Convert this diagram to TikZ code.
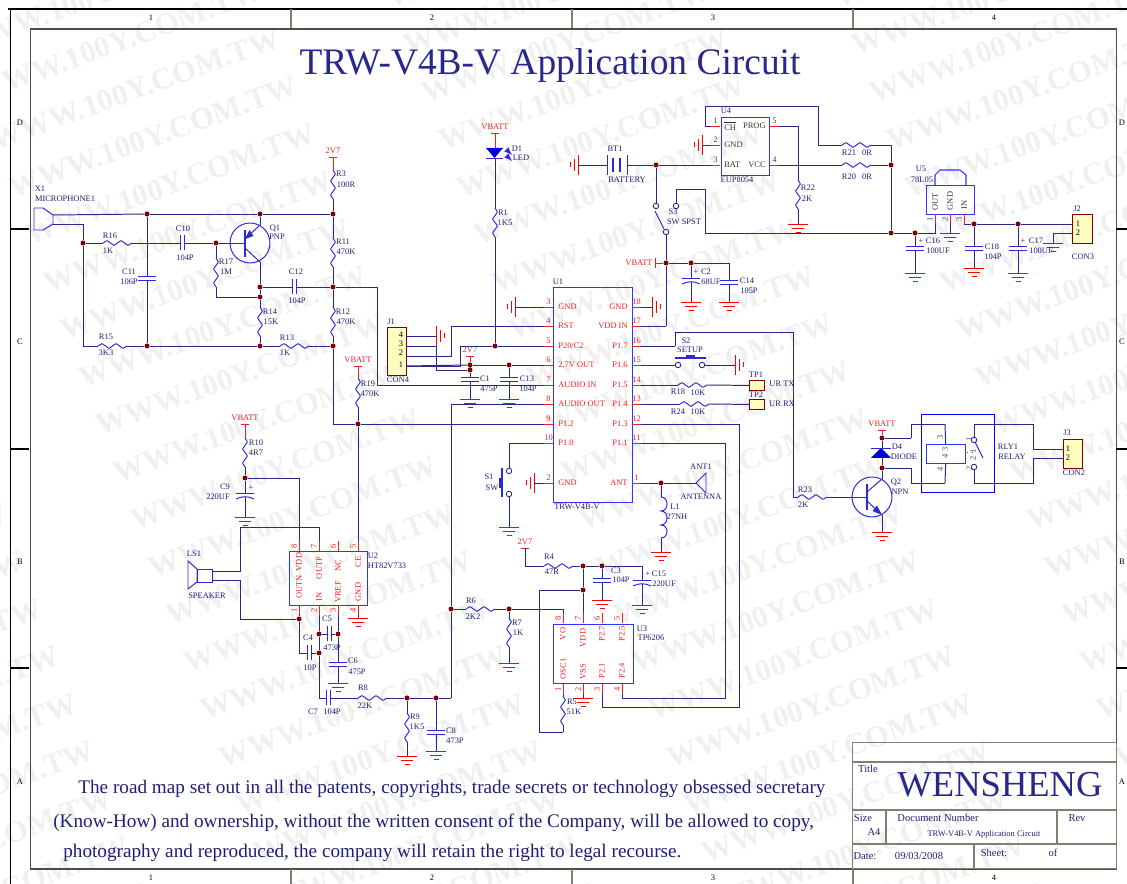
\documentclass[tikz,border=0pt]{standalone}
\usepackage{fontspec}
\setmainfont{Liberation Serif}
\definecolor{wirecol}{HTML}{28288C}
\definecolor{symcol}{HTML}{2A2AD8}
\definecolor{redcol}{HTML}{F02020}
\definecolor{lblcol}{HTML}{1F1F78}
\definecolor{junccol}{HTML}{800000}
\definecolor{framecol}{HTML}{808070}
\tikzset{
  wire/.style={draw=wirecol,line width=0.56pt},
  hv/.style={to path={-| (\tikztotarget)}},
  vh/.style={to path={|- (\tikztotarget)}},
  pwr/.style={draw=redcol,line width=0.5pt},
  gndl/.style={draw=red,line width=0.55pt},
  sym/.style={draw=symcol,line width=0.56pt},
  lbl/.style={font=\fontsize{4.8}{5.5}\selectfont,text=lblcol,inner sep=0pt},
  pinlbl/.style={font=\fontsize{4.8}{5.5}\selectfont,text=redcol,inner sep=0pt},
  pinnum/.style={font=\fontsize{4.8}{5.5}\selectfont,text=redcol,inner sep=0pt},
  bignote/.style={font=\fontsize{10.93}{12}\selectfont,text=lblcol,inner sep=0pt,anchor=west},
  dot/.style={circle,fill=junccol,inner sep=0pt,minimum size=0.1cm},
  contact/.style={circle,draw=wirecol,fill=white,line width=0.5pt,inner sep=0pt,minimum size=0.11cm},
  ic/.style={draw=blue!80!white,line width=0.6pt,inner sep=0pt},
  conn/.style={draw=junccol,fill=yellow!25,line width=0.6pt,inner sep=0pt},
  wmark/.style={font=\bfseries\fontsize{17.5}{19}\selectfont,text=black!6,rotate=20,inner sep=0pt},
  framel/.style={draw=framecol,line width=0.6pt},
  pics/res/.style={code={
    \draw[sym,rounded corners=0.4pt] (0,0) -- (4,-2.5) -- (11,2.5) -- (18,-2.5) -- (25,2.5) -- (29,0);
    \coordinate (-a) at (0,0);
    \coordinate (-b) at (29,0);
  }},
  pics/cap/.style={code={
    \draw[sym] (0,-#1) -- (0,#1);
    \draw[sym] (4,-#1) -- (4,#1);
    \coordinate (-a) at (0,0);
    \coordinate (-b) at (4,0);
  }},
  pics/pcap/.style={code={
    \draw[sym] (0,-9) -- (0,9);
    \draw[sym] (6,-9) .. controls (3,-3) and (3,3) .. (6,9);
    \coordinate (-a) at (0,0);
    \coordinate (-b) at (4,0);
  }},
  pics/gnd/.style={code={
    \draw[gndl] (0,-10) -- (0,10);
    \draw[gndl] (4,-6) -- (4,6);
    \draw[gndl] (8,-2.5) -- (8,2.5);
    \coordinate (-a) at (0,0);
  }},
  pics/vcc/.style={code={
    \node[pinlbl] (-n) at (0,-6) {#1};
    \draw[pwr] (-4,0) -- (4,0);
    \coordinate (-a) at (0,0);
  }},
  pics/lpin/.style={code={
    \draw[pwr] (0,0) -- (9,0);
    \node[pinnum] (-n) at (4.5,-5) {#1};
    \coordinate (-a) at (0,0);
  }},
  pics/rpin/.style={code={
    \draw[pwr] (0,0) -- (-9,0);
    \node[pinnum] (-n) at (-4.5,-5) {#1};
    \coordinate (-a) at (0,0);
  }},
  pics/tpin/.style={code={
    \draw[pwr] (0,0) -- (0,10);
    \node[pinnum,rotate=90] (-n) at (-5,5) {#1};
    \coordinate (-a) at (0,0);
  }},
  pics/bpin/.style={code={
    \draw[pwr] (0,0) -- (0,-10);
    \node[pinnum,rotate=90] (-n) at (-5,-5) {#1};
    \coordinate (-a) at (0,0);
  }},
  pics/bjtp/.style={code={
    \draw[sym] (0,0) circle [radius=0.4cm];
    \draw[symcol,line width=1.3pt] (-5,-13) -- (-5,14);
    \draw[sym] (-20,0) -- (-5,0);
    \draw[sym] (10,-18) -- (-5,-4);
    \draw[sym] (-5,5) -- (10,19);
    \fill[symcol] (-5,-4) -- (3.5,-7) -- (-0.5,-13) -- cycle;
    \coordinate (-b) at (-20,0);
    \coordinate (-e) at (10,-18);
    \coordinate (-c) at (10,19);
  }},
  pics/bjtn/.style={code={
    \draw[sym] (0,0) circle [radius=0.4cm];
    \draw[symcol,line width=1.3pt] (-5,-13) -- (-5,13);
    \draw[sym] (-20,0) -- (-5,0);
    \draw[sym] (10,-18) -- (-5,-5);
    \draw[sym] (-5,4) -- (10,18);
    \fill[symcol] (10,18) -- (0.5,14) -- (5,8.5) -- cycle;
    \coordinate (-b) at (-20,0);
    \coordinate (-c) at (10,-18);
    \coordinate (-e) at (10,18);
  }}
}
\begin{document}
\begin{tikzpicture}[x=0.02cm,y=-0.02cm]
  \useasboundingbox (0,0) rectangle (1127,884);
  \clip (0,0) rectangle (1127,884);
  % watermark
  \foreach \r in {-14,...,7} {
    \foreach \c in {-2,...,1} {
      \pgfmathsetmacro{\wx}{776+\r*17.5+\c*448}
      \pgfmathsetmacro{\wy}{612+\r*47.5}
      \ifdim\wx pt>-150pt
        \ifdim\wx pt<1280pt
          \node[wmark] (w\r\c) at (\wx,\wy) {WWW.100Y.COM.TW};
        \fi
      \fi
    }
  }
  % sheet frame
  \draw[black,line width=1pt] (8,9) -- (1127,9);
  \draw[black,line width=0.8pt] (10.5,9) -- (10.5,884);
  \node[framel,draw=framecol!60!black,line width=0.7pt,anchor=north west,inner sep=0pt,minimum width=21.73cm,minimum height=16.8cm] (sheet) at (29.5,28.5) {};
  \draw[framel] (291,9) -- (291,28);
  \draw[framel] (572,9) -- (572,28);
  \draw[framel] (853,9) -- (853,28);
  \draw[framel] (291,869) -- (291,884);
  \draw[framel] (572,869) -- (572,884);
  \draw[framel] (853,869) -- (853,884);
  \draw[black,line width=0.6pt] (10,229) -- (29,229);
  \draw[black,line width=0.6pt] (10,449) -- (29,449);
  \draw[black,line width=0.6pt] (10,668) -- (29,668);
  \draw[black,line width=0.6pt] (1116,229) -- (1127,229);
  \draw[black,line width=0.6pt] (1116,449) -- (1127,449);
  \draw[black,line width=0.6pt] (1116,668) -- (1127,668);
  \node[lbl,text=black] (t1) at (151,18) {1};
  \node[lbl,text=black] (t2) at (432,18) {2};
  \node[lbl,text=black] (t3) at (713,18) {3};
  \node[lbl,text=black] (t4) at (994,18) {4};
  \node[lbl,text=black] (b1) at (151,878) {1};
  \node[lbl,text=black] (b2) at (432,878) {2};
  \node[lbl,text=black] (b3) at (713,878) {3};
  \node[lbl,text=black] (b4) at (994,878) {4};
  \node[lbl,text=black] (lD) at (20,123) {D};
  \node[lbl,text=black] (lC) at (20,342) {C};
  \node[lbl,text=black] (lB) at (20,562) {B};
  \node[lbl,text=black] (lA) at (20,782) {A};
  \node[lbl,text=black] (rD) at (1122,123) {D};
  \node[lbl,text=black] (rC) at (1122,342) {C};
  \node[lbl,text=black] (rB) at (1122,562) {B};
  \node[lbl,text=black] (rA) at (1122,782) {A};
  % title and note
  \node[text=wirecol,inner sep=0pt,font=\fontsize{21.3}{23}\selectfont] (title) at (550,66) {TRW-V4B-V Application Circuit};
  \node[bignote] (note1) at (78,789) {The road map set out in all the patents, copyrights, trade secrets or technology obsessed secretary};
  \node[bignote] (note2) at (53,823) {(Know-How) and ownership, without the written consent of the Company, will be allowed to copy,};
  \node[bignote] (note3) at (63,853) {photography and reproduced, the company will retain the right to legal recourse.};
  % title block
  \node[framel,anchor=north west,inner sep=0pt,minimum width=5.28cm,minimum height=2.52cm] (block) at (852,742) {};
  \draw[framel] (852,762) -- (1116,762);
  \draw[framel] (852,810) -- (1116,810);
  \draw[framel] (852,844) -- (1116,844);
  \draw[framel] (886,810) -- (886,844);
  \draw[framel] (1057,810) -- (1057,844);
  \draw[framel] (974,844) -- (974,868);
  \node[lbl,font=\fontsize{6}{7}\selectfont] (bTitle) at (868,769) {Title};
  \node[text=wirecol,inner sep=0pt,font=\fontsize{20.8}{23}\selectfont] (bName) at (1000,785) {WENSHENG};
  \node[lbl,font=\fontsize{6}{7}\selectfont] (bSize) at (863,818) {Size};
  \node[lbl,font=\fontsize{6}{7}\selectfont] (bA4) at (874,832) {A4};
  \node[lbl,font=\fontsize{6}{7}\selectfont] (bDoc) at (938,818) {Document Number};
  \node[lbl,font=\fontsize{6}{7}\selectfont] (bRev) at (1077,818) {Rev};
  \node[lbl] (bNum) at (984,834) {TRW-V4B-V Application Circuit};
  \node[lbl,font=\fontsize{6}{7}\selectfont] (bDate) at (865,856) {Date:};
  \node[lbl,font=\fontsize{6}{7}\selectfont] (bDay) at (919,856) {09/03/2008};
  \node[lbl,font=\fontsize{6}{7}\selectfont] (bSheet) at (994,853) {Sheet:};
  \node[lbl,font=\fontsize{6}{7}\selectfont] (bOf) at (1053,853) {of};
  % parts
  \pic[rotate=-90] (R3) at (333,170) {res};
  \pic[rotate=-90] (R11) at (333,238) {res};
  \pic[rotate=-90] (R12) at (333,307) {res};
  \pic[rotate=-90] (R14) at (260,307) {res};
  \pic[rotate=-90] (R17) at (216,258) {res};
  \pic[rotate=-90] (R19) at (358,378) {res};
  \pic[rotate=-90] (R1) at (495,208) {res};
  \pic[rotate=-90] (R10) at (245,438) {res};
  \pic[rotate=-90] (R9) at (407,713) {res};
  \pic[rotate=-90] (R7) at (509,618) {res};
  \pic[rotate=-90] (R5) at (563,696) {res};
  \pic[rotate=-90] (R22) at (798,180) {res};
  \pic (R16) at (103,243) {res};
  \pic (R15) at (98,346) {res};
  \pic (R13) at (280,346) {res};
  \pic (R8) at (358,698) {res};
  \pic (R6) at (466,609) {res};
  \pic (R4) at (544,566) {res};
  \pic (R18) at (678,385) {res};
  \pic (R24) at (680,404) {res};
  \pic (R20) at (842,165) {res};
  \pic (R21) at (842,145) {res};
  \pic (R23) at (798,497) {res};
  \pic (C10) at (180,243) {cap=7.5};
  \pic (C12) at (292,287) {cap=7.5};
  \pic (C5) at (327,634) {cap=7.5};
  \pic (C4) at (307,653) {cap=7.5};
  \pic (C7) at (326,698) {cap=7.5};
  \pic[rotate=-90] (C11) at (147,276) {cap=9};
  \pic[rotate=-90] (C6) at (338,662) {cap=9};
  \pic[rotate=-90] (C8) at (436,730) {cap=9};
  \pic[rotate=-90] (C1) at (470,377) {cap=9};
  \pic[rotate=-90] (C13) at (509,377) {cap=9};
  \pic[rotate=-90] (C3) at (602,578) {cap=9};
  \pic[rotate=-90] (C14) at (729,280) {cap=9};
  \pic[rotate=-90] (C18) at (974,246) {cap=9};
  \pic[rotate=-90] (C16) at (915,246) {cap=9};
  \pic[rotate=-90] (C17) at (1018,246) {cap=9};
  \pic[rotate=-90] (C9) at (245,493) {pcap};
  \pic[rotate=-90] (C2) at (691,278) {pcap};
  \pic[rotate=-90] (C15) at (642,580) {pcap};
  \pic[rotate=-90] (gC9) at (245,517) {gnd};
  \pic[rotate=-90] (gC6) at (338,683) {gnd};
  \pic[rotate=-90] (gU2) at (358,618) {gnd};
  \pic[rotate=-90] (gR9) at (407,756) {gnd};
  \pic[rotate=-90] (gC8) at (436,751) {gnd};
  \pic[rotate=-90] (gC1) at (470,399) {gnd};
  \pic[rotate=-90] (gC13) at (509,399) {gnd};
  \pic[rotate=-90] (gS1) at (509,527) {gnd};
  \pic[rotate=-90] (gR7) at (509,663) {gnd};
  \pic[rotate=-90] (gC3) at (602,600) {gnd};
  \pic[rotate=-90] (gC15) at (642,605) {gnd};
  \pic[rotate=-90] (gU3) at (583,698) {gnd};
  \pic[rotate=-90] (gL1) at (661,552) {gnd};
  \pic[rotate=-90] (gC2) at (691,302) {gnd};
  \pic[rotate=-90] (gC14) at (729,302) {gnd};
  \pic[rotate=-90] (gR22) at (798,224) {gnd};
  \pic[rotate=-90] (gC16) at (915,273) {gnd};
  \pic[rotate=-90] (gU5) at (950,233) {gnd};
  \pic[rotate=-90] (gC18) at (974,268) {gnd};
  \pic[rotate=-90] (gC17) at (1018,273) {gnd};
  \pic[rotate=-90] (gJ2) at (1053,243) {gnd};
  \pic[rotate=-90] (gQ2) at (882,532) {gnd};
  \pic[rotate=180] (gU1a) at (515,307) {gnd};
  \pic[rotate=180] (gU1c) at (534,483) {gnd};
  \pic[rotate=180] (gBT1) at (578,165) {gnd};
  \pic[rotate=180] (gU4) at (702,145) {gnd};
  \pic (gU1b) at (652,307) {gnd};
  \pic (gS2) at (735,365) {gnd};
  \pic (gJ1) at (436,336) {gnd};
  \pic (vR3) at (333,157) {vcc=2V7};
  \pic (vR19) at (358,366) {vcc=VBATT};
  \pic (vR10) at (245,424) {vcc=VBATT};
  \pic (vD1) at (495,133) {vcc=VBATT};
  \pic (vC1) at (470,356) {vcc=2V7};
  \pic (vR4) at (525,548) {vcc=2V7};
  \pic (vQ2) at (882,430) {vcc=VBATT};
  \pic (Q1) at (250,243) {bjtp};
  \pic (Q2) at (872,497) {bjtn};
  % U1
  \node[ic,anchor=north west,minimum width=1.58cm,minimum height=4.3cm] (U1) at (553,287) {};
  \pic (U1p3) at (544,307) {lpin=3};
  \pic (U1p4) at (544,326) {lpin=4};
  \pic (U1p5) at (544,346) {lpin=5};
  \pic (U1p6) at (544,365) {lpin=6};
  \pic (U1p7) at (544,385) {lpin=7};
  \pic (U1p8) at (544,404) {lpin=8};
  \pic (U1p9) at (544,424) {lpin=9};
  \pic (U1p10) at (544,443) {lpin=10};
  \pic (U1p2) at (544,483) {lpin=2};
  \pic (U1p18) at (641,307) {rpin=18};
  \pic (U1p17) at (641,326) {rpin=17};
  \pic (U1p16) at (641,346) {rpin=16};
  \pic (U1p15) at (641,365) {rpin=15};
  \pic (U1p14) at (641,385) {rpin=14};
  \pic (U1p13) at (641,404) {rpin=13};
  \pic (U1p12) at (641,424) {rpin=12};
  \pic (U1p11) at (641,443) {rpin=11};
  \pic (U1p1) at (641,483) {rpin=1};
  % U2
  \node[ic,anchor=north west,minimum width=1.56cm,minimum height=1.08cm] (U2) at (289,551) {};
  \pic (U2p8) at (299,541) {tpin=8};
  \pic (U2p7) at (319,541) {tpin=7};
  \pic (U2p6) at (338,541) {tpin=6};
  \pic (U2p5) at (358,541) {tpin=5};
  \pic (U2p1) at (299,615) {bpin=1};
  \pic (U2p2) at (319,615) {bpin=2};
  \pic (U2p3) at (338,615) {bpin=3};
  \pic (U2p4) at (358,615) {bpin=4};
  % U3
  \node[ic,anchor=north west,minimum width=1.6cm,minimum height=1.18cm] (U3) at (553,624) {};
  \pic (U3p8) at (563,613) {tpin=8};
  \pic (U3p7) at (583,613) {tpin=7};
  \pic (U3p6) at (602,613) {tpin=6};
  \pic (U3p5) at (622,613) {tpin=5};
  \pic (U3p1) at (563,694) {bpin=1};
  \pic (U3p2) at (583,694) {bpin=2};
  \pic (U3p3) at (602,694) {bpin=3};
  \pic (U3p4) at (622,694) {bpin=4};
  % U4 and U5
  \begin{scope}[pinnum/.append style={text=black!75}]
    \node[ic,anchor=north west,minimum width=0.96cm,minimum height=1.16cm] (U4) at (721,117) {};
    \pic (U4p1) at (711,126) {lpin=1};
    \pic (U4p2) at (711,145) {lpin=2};
    \pic (U4p3) at (711,165) {lpin=3};
    \pic (U4p5) at (779,126) {rpin=5};
    \pic (U4p4) at (779,165) {rpin=4};
    \node[ic,anchor=north west,minimum width=0.96cm,minimum height=0.58cm] (U5) at (926,185) {};
    \pic (U5p1) at (935,224) {bpin=1};
    \pic (U5p2) at (950,224) {bpin=2};
    \pic (U5p3) at (964,224) {bpin=3};
  \end{scope}
  \draw[ic] (935,185) -- (935,175) -- (940,170) -- (960,170) -- (966,175) -- (966,185);
  % connectors boxes
  \node[conn,anchor=north west,minimum width=0.38cm,minimum height=0.96cm] (J1) at (387,327) {};
  \node[conn,anchor=north west,minimum width=0.4cm,minimum height=0.58cm] (J2) at (1072,214) {};
  \node[conn,anchor=north west,minimum width=0.38cm,minimum height=0.58cm] (J3) at (1063,439) {};
  \node[conn,anchor=north west,minimum width=0.3cm,minimum height=0.2cm] (TP1) at (749,380) {};
  \node[conn,anchor=north west,minimum width=0.3cm,minimum height=0.2cm] (TP2) at (749,399) {};
  \coordinate (J1p4) at (406,336);
  \coordinate (J1p3) at (406,346);
  \coordinate (J1p2) at (406,356);
  \coordinate (J1p1) at (406,366);
  \coordinate (J2p1) at (1072,224);
  \coordinate (J2p2) at (1072,233);
  \coordinate (J3p1) at (1063,449);
  \coordinate (J3p2) at (1063,458);
  % relay
  \node[draw=blue,line width=0.6pt,inner sep=0pt,anchor=north west,minimum width=1.46cm,minimum height=1.56cm] (RLY1) at (921,414) {};
  \node[ic,anchor=north west,minimum width=0.78cm,minimum height=0.38cm] (coil) at (926,444) {};
  \node[contact] (RLa) at (974,440) {};
  \node[contact] (RLb) at (974,467) {};
  \draw[sym] (975,442) -- (983,458);
  \draw[sym,dotted] (967,452) -- (976,452);
  % microphone, speaker, antenna
  \draw[sym] (34,208) -- (43,208) -- (53,215) -- (53,224) -- (43,230) -- (34,230) -- cycle;
  \coordinate (X1t) at (53,215);
  \coordinate (X1b) at (53,224);
  \draw[sym] (188,561) -- (197,569) -- (197,582) -- (188,589) -- cycle;
  \draw[sym] (197,569) rectangle (212,582);
  \coordinate (LS1t) at (212,571);
  \coordinate (LS1b) at (212,580);
  \draw[sym] (696,483) -- (706,473) -- (706,493) -- cycle;
  \coordinate (ANT1t) at (696,483);
  % battery
  \draw[sym] (607,155) -- (607,175);
  \draw[sym,line width=1.2pt] (613,158) -- (613,172);
  \draw[sym,line width=1.2pt] (620,158) -- (620,172);
  \draw[sym] (627,155) -- (627,175);
  \coordinate (BT1l) at (607,165);
  \coordinate (BT1r) at (627,165);
  % diodes
  \fill[blue!85!black] (486,148) -- (503,148) -- (494.5,158) -- cycle;
  \draw[sym] (486,158) -- (503,158);
  \draw[sym,-latex] (507,150) -- (512,155);
  \draw[sym,-latex] (507,156) -- (512,161);
  \coordinate (D1a) at (495,148);
  \coordinate (D1k) at (495,158);
  \fill[blue!85!black] (871,458) -- (891,458) -- (881,448) -- cycle;
  \draw[sym] (871,448) -- (891,448);
  \coordinate (D4a) at (882,458);
  \coordinate (D4k) at (882,448);
  % inductor
  \draw[sym] (661,497) .. controls (669,497) and (669,511) .. (661,511) .. controls (669,511) and (669,525) .. (661,525) .. controls (669,525) and (669,538) .. (661,538);
  \coordinate (L1a) at (661,497);
  \coordinate (L1b) at (661,538);
  % switches
  \node[contact] (S1a) at (509,471) {};
  \node[contact] (S1b) at (509,494) {};
  \draw[symcol,line width=1.3pt] (502,468) -- (502,497);
  \fill[symcol] (499,478) rectangle (502,488);
  \node[contact] (S2a) at (678,365) {};
  \node[contact] (S2b) at (702,365) {};
  \draw[symcol,line width=1.3pt] (675,358) -- (706,358);
  \fill[symcol] (686,355) rectangle (695,358);
  \node[contact] (S3a) at (656,206) {};
  \node[contact] (S3b) at (676,206) {};
  \node[contact] (S3c) at (666,232) {};
  \draw[sym] (664,229) -- (655,211);
  % junctions
  \node[dot] (j1) at (147,214) {};
  \node[dot] (j2) at (260,214) {};
  \node[dot] (j3) at (333,214) {};
  \node[dot] (j4) at (83,243) {};
  \node[dot] (j5) at (216,243) {};
  \node[dot] (j6) at (260,287) {};
  \node[dot] (j7) at (260,297) {};
  \node[dot] (j8) at (333,287) {};
  \node[dot] (j9) at (147,346) {};
  \node[dot] (j10) at (260,346) {};
  \node[dot] (j11) at (333,346) {};
  \node[dot] (j12) at (358,424) {};
  \node[dot] (j13) at (495,346) {};
  \node[dot] (j14) at (470,365) {};
  \node[dot] (j15) at (470,370) {};
  \node[dot] (j16) at (509,365) {};
  \node[dot] (j17) at (245,478) {};
  \node[dot] (j18) at (299,619) {};
  \node[dot] (j19) at (319,634) {};
  \node[dot] (j20) at (338,634) {};
  \node[dot] (j21) at (319,653) {};
  \node[dot] (j22) at (407,698) {};
  \node[dot] (j23) at (436,698) {};
  \node[dot] (j24) at (451,609) {};
  \node[dot] (j25) at (509,609) {};
  \node[dot] (j26) at (583,566) {};
  \node[dot] (j27) at (602,566) {};
  \node[dot] (j28) at (583,590) {};
  \node[dot] (j29) at (661,483) {};
  \node[dot] (j30) at (656,165) {};
  \node[dot] (j31) at (666,263) {};
  \node[dot] (j32) at (691,263) {};
  \node[dot] (j33) at (891,165) {};
  \node[dot] (j34) at (891,233) {};
  \node[dot] (j35) at (915,233) {};
  \node[dot] (j36) at (974,224) {};
  \node[dot] (j37) at (1018,224) {};
  \node[dot] (j38) at (882,438) {};
  \node[dot] (j39) at (882,468) {};
  % bends
  \coordinate (k1) at (377,287);
  \coordinate (k2) at (240,527);
  \coordinate (k3) at (240,580);
  \coordinate (k4) at (451,698);
  \coordinate (k6) at (451,326);
  \coordinate (k7) at (460,346);
  \coordinate (k9) at (436,346);
  \coordinate (k10) at (666,326);
  \coordinate (k11) at (675,346);
  \coordinate (k12) at (793,332);
  \coordinate (k13) at (739,424);
  \coordinate (k14) at (602,707);
  \coordinate (k15) at (725,443);
  \coordinate (k16) at (622,698);
  \coordinate (k17) at (509,443);
  \coordinate (k18) at (642,566);
  \coordinate (k19) at (539,590);
  \coordinate (k20) at (563,732);
  \coordinate (k21) at (705,189);
  \coordinate (k22) at (891,145);
  \coordinate (k23) at (818,145);
  \coordinate (k24) at (705,107);
  \coordinate (k25) at (729,263);
  \coordinate (k26) at (1053,233);
  \coordinate (k27) at (911,438);
  \coordinate (k28) at (945,424);
  \coordinate (k30) at (911,468);
  \coordinate (k31) at (945,483);
  \coordinate (k32) at (974,424);
  \coordinate (k33) at (1033,449);
  \coordinate (k34) at (974,483);
  \coordinate (k35) at (1033,458);
  \path[wire]
  (X1t) edge (j1)
  (j1) edge (j2)
  (j2) edge (j3)
  (X1b) edge[hv] (j4)
  (j4) edge[vh] (R15-a)
  (j4) edge (R16-a)
  (R16-b) edge (C10-a)
  (C10-b) edge (j5)
  (j5) edge (Q1-b)
  (j1) edge (C11-a)
  (C11-b) edge (j9)
  (R15-b) edge (j9)
  (j9) edge (j10)
  (j10) edge (R13-a)
  (R13-b) edge (j11)
  (j2) edge (Q1-e)
  (Q1-c) edge (j6)
  (j6) edge (j7)
  (j7) edge (R14-a)
  (R14-b) edge (j10)
  (j5) edge (R17-a)
  (R17-b) edge[vh] (j7)
  (j6) edge (C12-a)
  (C12-b) edge (j8)
  (j3) edge (R3-b)
  (j3) edge (R11-a)
  (R11-b) edge (j8)
  (j8) edge (R12-a)
  (R12-b) edge (j11)
  (j8) edge (k1)
  (k1) edge[vh] (U1p7-a)
  (j11) edge[vh] (j12)
  (j12) edge (U1p9-a)
  (j12) edge (R19-b)
  (j12) edge (U2p5-a)
  (R10-b) edge (j17)
  (j17) edge (C9-a)
  (C9-b) edge (gC9-a)
  (j17) edge[hv] (U2p8-a)
  (U2p7-a) edge[vh] (k2)
  (k2) edge[vh] (LS1t)
  (LS1b) edge (k3)
  (k3) edge[vh] (j18)
  (U2p1-a) edge (j18)
  (j18) edge[vh] (C4-a)
  (C4-b) edge (j21)
  (U2p2-a) edge (j19)
  (j19) edge (j21)
  (j21) edge[vh] (C7-a)
  (C7-b) edge (R8-a)
  (R8-b) edge (j22)
  (j22) edge (j23)
  (j23) edge (k4)
  (k4) edge (j24)
  (j24) edge[vh] (U1p8-a)
  (j24) edge (R6-a)
  (R6-b) edge (j25)
  (j25) edge[hv] (U3p8-a)
  (j25) edge (R7-a)
  (R7-b) edge (gR7-a)
  (j19) edge (C5-a)
  (C5-b) edge (j20)
  (U2p3-a) edge (j20)
  (j20) edge (C6-a)
  (C6-b) edge (gC6-a)
  (U2p4-a) edge (gU2-a)
  (j22) edge (R9-a)
  (R9-b) edge (gR9-a)
  (j23) edge (C8-a)
  (C8-b) edge (gC8-a)
  (U1p3-a) edge (gU1a-a)
  (U1p18-a) edge (gU1b-a)
  (U1p4-a) edge (k6)
  (k6) edge[vh] (J1p2)
  (U1p5-a) edge (j13)
  (j13) edge (k7)
  (k7) edge[vh] (J1p1)
  (U1p6-a) edge (j16)
  (j16) edge (j14)
  (j14) edge (J1p1)
  (J1p4) edge (gJ1-a)
  (J1p3) edge (k9)
  (k9) edge[vh] (j15)
  (j14) edge (j15)
  (j15) edge (C1-a)
  (C1-b) edge (gC1-a)
  (j16) edge (C13-a)
  (C13-b) edge (gC13-a)
  (D1k) edge (R1-a)
  (R1-b) edge (j13)
  (U1p17-a) edge (k10)
  (k10) edge (j31)
  (j31) edge (S3c)
  (U1p16-a) edge (k11)
  (k11) edge[vh] (k12)
  (k12) edge[vh] (R23-a)
  (R23-b) edge (Q2-b)
  (U1p15-a) edge (S2a)
  (S2b) edge (gS2-a)
  (U1p14-a) edge (R18-a)
  (R18-b) edge (TP1)
  (U1p13-a) edge (R24-a)
  (R24-b) edge (TP2)
  (U1p12-a) edge (k13)
  (k13) edge[vh] (k14)
  (k14) edge (U3p3-a)
  (U1p11-a) edge (k15)
  (k15) edge[vh] (k16)
  (k16) edge (U3p4-a)
  (U1p1-a) edge (j29)
  (j29) edge (ANT1t)
  (j29) edge (L1a)
  (L1b) edge (gL1-a)
  (U1p10-a) edge (k17)
  (k17) edge (S1a)
  (S1b) edge (gS1-a)
  (U1p2-a) edge (gU1c-a)
  (vR4-a) edge[vh] (R4-a)
  (R4-b) edge (j26)
  (j26) edge (j27)
  (j27) edge (k18)
  (k18) edge (C15-a)
  (C15-b) edge (gC15-a)
  (j27) edge (C3-a)
  (C3-b) edge (gC3-a)
  (j26) edge (j28)
  (j28) edge (U3p7-a)
  (j28) edge (k19)
  (k19) edge[vh] (k20)
  (k20) edge (R5-b)
  (U3p1-a) edge (R5-a)
  (U3p2-a) edge (gU3-a)
  (U4p3-a) edge (j30)
  (j30) edge (BT1r)
  (BT1l) edge (gBT1-a)
  (j30) edge (S3a)
  (S3b) edge[vh] (k21)
  (k21) edge[vh] (j34)
  (j34) edge (j35)
  (U5p1-a) edge[vh] (j35)
  (j33) edge (j34)
  (R20-b) edge (j33)
  (j33) edge (k22)
  (k22) edge (R21-b)
  (R21-a) edge (k23)
  (k23) edge[vh] (k24)
  (k24) edge[vh] (U4p1-a)
  (U4p2-a) edge (gU4-a)
  (U4p4-a) edge (R20-a)
  (U4p5-a) edge[hv] (R22-a)
  (R22-b) edge (gR22-a)
  (j31) edge (j32)
  (j32) edge (k25)
  (k25) edge (C14-a)
  (C14-b) edge (gC14-a)
  (j32) edge (C2-a)
  (C2-b) edge (gC2-a)
  (U5p3-a) edge (j36)
  (j36) edge (j37)
  (j37) edge (J2p1)
  (J2p2) edge (k26)
  (k26) edge (gJ2-a)
  (U5p2-a) edge (gU5-a)
  (j35) edge (C16-a)
  (C16-b) edge (gC16-a)
  (j36) edge (C18-a)
  (C18-b) edge (gC18-a)
  (j37) edge (C17-a)
  (C17-b) edge (gC17-a)
  (Q2-c) edge (j39)
  (Q2-e) edge (gQ2-a)
  (j39) edge (D4a)
  (D4k) edge (j38)
  (j38) edge (k27)
  (k27) edge[vh] (k28)
  (k28) edge (coil)
  (j39) edge (k30)
  (k30) edge[vh] (k31)
  (k31) edge (coil)
  (RLa) edge (k32)
  (k32) edge[hv] (k33)
  (k33) edge (J3p1)
  (RLb) edge (k34)
  (k34) edge[hv] (k35)
  (k35) edge (J3p2);
  \path[pwr]
  (vR3-a) edge (R3-a)
  (vR19-a) edge (R19-a)
  (vR10-a) edge (R10-a)
  (vD1-a) edge (D1a)
  (vC1-a) edge (j14)
  (vQ2-a) edge (j38);
  \coordinate (vbS3) at (655,263);
  \path[pwr] (vbS3) edge (j31);
  \draw[pwr] (655,258) -- (655,268);
  % part labels
  \node[pinlbl] (tVbS3) at (639,263) {VBATT};
  \node[lbl] (lX1) at (40,189) {X1};
  \node[lbl] (lX1v) at (65,199) {MICROPHONE1};
  \node[lbl] (lR16) at (110,236) {R16};
  \node[lbl] (lR16v) at (108,251) {1K};
  \node[lbl] (lC10) at (183,229) {C10};
  \node[lbl] (lC10v) at (185,258) {104P};
  \node[lbl] (lC11) at (129,272) {C11};
  \node[lbl] (lC11v) at (129,282) {106P};
  \node[lbl] (lR17) at (226,262) {R17};
  \node[lbl] (lR17v) at (226,272) {1M};
  \node[lbl] (lQ1) at (275,228) {Q1};
  \node[lbl] (lQ1v) at (277,237) {PNP};
  \node[lbl] (lC12) at (296,272) {C12};
  \node[lbl] (lC12v) at (297,301) {104P};
  \node[lbl] (lR3) at (341,174) {R3};
  \node[lbl] (lR3v) at (346,185) {100R};
  \node[lbl] (lR11) at (343,242) {R11};
  \node[lbl] (lR11v) at (346,252) {470K};
  \node[lbl] (lR12) at (343,312) {R12};
  \node[lbl] (lR12v) at (346,322) {470K};
  \node[lbl] (lR13) at (287,338) {R13};
  \node[lbl] (lR13v) at (285,353) {1K};
  \node[lbl] (lR14) at (270,312) {R14};
  \node[lbl] (lR14v) at (271,322) {15K};
  \node[lbl] (lR15) at (106,337) {R15};
  \node[lbl] (lR15v) at (106,353) {3K3};
  \node[lbl] (lR19) at (368,384) {R19};
  \node[lbl] (lR19v) at (370,394) {470K};
  \node[lbl] (lR10) at (256,443) {R10};
  \node[lbl] (lR10v) at (256,453) {4R7};
  \node[lbl] (lC9) at (225,487) {C9};
  \node[lbl] (lC9v) at (218,497) {220UF};
  \node[lbl] (lC9p) at (251,488) {+};
  \node[lbl] (lU2) at (373,556) {U2};
  \node[lbl] (lU2v) at (387,566) {HT82V733};
  \node[lbl] (lLS1) at (194,554) {LS1};
  \node[lbl] (lLS1v) at (207,596) {SPEAKER};
  \node[lbl] (lC6) at (353,661) {C6};
  \node[lbl] (lC6v) at (357,672) {475P};
  \node[lbl] (lC5) at (327,619) {C5};
  \node[lbl] (lC5v) at (332,648) {473P};
  \node[lbl] (lC4) at (308,638) {C4};
  \node[lbl] (lC4v) at (310,668) {10P};
  \node[lbl] (lC7) at (313,712) {C7};
  \node[lbl] (lC7v) at (332,712) {104P};
  \node[lbl] (lR8) at (363,688) {R8};
  \node[lbl] (lR8v) at (365,706) {22K};
  \node[lbl] (lR9) at (415,717) {R9};
  \node[lbl] (lR9v) at (417,727) {1K5};
  \node[lbl] (lC8) at (451,731) {C8};
  \node[lbl] (lC8v) at (455,741) {473P};
  \node[lbl] (lR6) at (471,601) {R6};
  \node[lbl] (lR6v) at (473,617) {2K2};
  \node[lbl] (lR7) at (517,623) {R7};
  \node[lbl] (lR7v) at (518,633) {1K};
  \node[lbl] (lR5) at (572,702) {R5};
  \node[lbl] (lR5v) at (574,712) {51K};
  \node[lbl] (lR4) at (549,557) {R4};
  \node[lbl] (lR4v) at (552,572) {47R};
  \node[lbl] (lC3) at (616,571) {C3};
  \node[lbl] (lC3v) at (621,580) {104P};
  \node[lbl] (lC15p) at (648,574) {+};
  \node[lbl] (lC15) at (659,574) {C15};
  \node[lbl] (lC15v) at (664,584) {220UF};
  \node[lbl] (lU3) at (642,629) {U3};
  \node[lbl] (lU3v) at (651,638) {TP6206};
  \node[lbl] (lS1) at (489,477) {S1};
  \node[lbl] (lS1v) at (492,488) {SW};
  \node[lbl] (lANT1) at (701,467) {ANT1};
  \node[lbl] (lANT1v) at (701,497) {ANTENNA};
  \node[lbl] (lL1) at (675,507) {L1};
  \node[lbl] (lL1v) at (677,517) {27NH};
  \node[lbl] (lU1) at (558,282) {U1};
  \node[lbl] (lU1v) at (577,507) {TRW-V4B-V};
  \node[lbl] (lJ1) at (391,322) {J1};
  \node[lbl] (lJ1v) at (398,380) {CON4};
  \node[lbl,text=black] (lJ14) at (401,335) {4};
  \node[lbl,text=black] (lJ13) at (401,344) {3};
  \node[lbl,text=black] (lJ12) at (401,353) {2};
  \node[lbl,text=black] (lJ11) at (401,365) {1};
  \node[lbl] (lC1) at (485,379) {C1};
  \node[lbl] (lC1v) at (489,389) {475P};
  \node[lbl] (lC13) at (527,379) {C13};
  \node[lbl] (lC13v) at (528,389) {104P};
  \node[lbl] (lD1) at (517,149) {D1};
  \node[lbl] (lD1v) at (521,158) {LED};
  \node[lbl] (lR1) at (503,213) {R1};
  \node[lbl] (lR1v) at (505,223) {1K5};
  \node[lbl] (lBT1) at (615,149) {BT1};
  \node[lbl] (lBT1v) at (627,180) {BATTERY};
  \node[lbl] (lS3) at (673,212) {S3};
  \node[lbl] (lS3v) at (684,222) {SW SPST};
  \node[lbl] (lC2p) at (696,272) {+};
  \node[lbl] (lC2) at (706,272) {C2};
  \node[lbl] (lC2v) at (711,282) {68UF};
  \node[lbl] (lC14) at (747,281) {C14};
  \node[lbl] (lC14v) at (749,291) {105P};
  \node[lbl] (lS2) at (686,341) {S2};
  \node[lbl] (lS2v) at (690,350) {SETUP};
  \node[lbl] (lR18) at (678,392) {R18};
  \node[lbl] (lR18v) at (698,393) {10K};
  \node[lbl] (lR24) at (678,412) {R24};
  \node[lbl] (lR24v) at (698,412) {10K};
  \node[lbl] (lTP1) at (756,375) {TP1};
  \node[lbl] (lTP2) at (756,395) {TP2};
  \node[lbl] (lTP1v) at (782,384) {UR TX};
  \node[lbl] (lTP2v) at (782,404) {UR RX};
  \node[lbl] (lU4) at (726,111) {U4};
  \node[lbl] (lU4v) at (737,180) {EUP8054};
  \node[lbl] (lR22) at (808,188) {R22};
  \node[lbl] (lR22v) at (807,199) {2K};
  \node[lbl] (lR21) at (849,153) {R21};
  \node[lbl] (lR21v) at (867,153) {0R};
  \node[lbl] (lR20) at (849,177) {R20};
  \node[lbl] (lR20v) at (867,177) {0R};
  \node[lbl] (lU5) at (921,169) {U5};
  \node[lbl] (lU5v) at (922,180) {78L05};
  \node[lbl] (lC16p) at (921,241) {+};
  \node[lbl] (lC16) at (933,241) {C16};
  \node[lbl] (lC16v) at (938,251) {100UF};
  \node[lbl] (lC18) at (992,247) {C18};
  \node[lbl] (lC18v) at (993,257) {104P};
  \node[lbl] (lC17p) at (1023,241) {+};
  \node[lbl] (lC17) at (1036,241) {C17};
  \node[lbl] (lC17v) at (1041,251) {100UF};
  \node[lbl] (lJ2) at (1077,209) {J2};
  \node[lbl] (lJ2v) at (1083,257) {CON3};
  \node[lbl,text=black] (lJ21) at (1078,224) {1};
  \node[lbl,text=black] (lJ22) at (1078,233) {2};
  \node[lbl] (lD4) at (897,447) {D4};
  \node[lbl] (lD4v) at (904,457) {DIODE};
  \node[lbl] (lQ2) at (896,482) {Q2};
  \node[lbl] (lQ2v) at (900,492) {NPN};
  \node[lbl] (lR23) at (805,490) {R23};
  \node[lbl] (lR23v) at (803,505) {2K};
  \node[lbl] (lRLY) at (1008,447) {RLY1};
  \node[lbl] (lRLYv) at (1012,457) {RELAY};
  \node[lbl] (lJ3) at (1067,433) {J3};
  \node[lbl] (lJ3v) at (1074,473) {CON2};
  \node[lbl,text=black] (lJ31) at (1068,449) {1};
  \node[lbl,text=black] (lJ32) at (1068,458) {2};
  \node[lbl,rotate=90,text=black!70] (lRc) at (945,453) {4 3};
  \node[lbl,rotate=90,text=black!70] (lRc3) at (940,437) {3};
  \node[lbl,rotate=90,text=black!70] (lRc4) at (940,469) {4};
  \node[lbl,rotate=90,text=black!70] (lRs1) at (969,439) {1};
  \node[lbl,rotate=90,text=black!70] (lRs2) at (969,468) {2};
  \node[lbl,rotate=90,text=black!70] (lRs) at (973,455) {2 1};
  % pin names
  \node[pinlbl,anchor=west] (nU1a) at (558,307) {GND};
  \node[pinlbl,anchor=west] (nU1b) at (558,326) {RST};
  \node[pinlbl,anchor=west] (nU1c) at (558,346) {P20/C2};
  \node[pinlbl,anchor=west] (nU1d) at (558,365) {2.7V OUT};
  \node[pinlbl,anchor=west] (nU1e) at (558,385) {AUDIO IN};
  \node[pinlbl,anchor=west] (nU1f) at (558,404) {AUDIO OUT};
  \node[pinlbl,anchor=west] (nU1g) at (558,424) {P1.2};
  \node[pinlbl,anchor=west] (nU1h) at (558,443) {P1.0};
  \node[pinlbl,anchor=west] (nU1i) at (558,483) {GND};
  \node[pinlbl,anchor=east] (nU1j) at (628,307) {GND};
  \node[pinlbl,anchor=east] (nU1k) at (628,326) {VDD IN};
  \node[pinlbl,anchor=east] (nU1l) at (628,346) {P1.7};
  \node[pinlbl,anchor=east] (nU1m) at (628,365) {P1.6};
  \node[pinlbl,anchor=east] (nU1n) at (628,385) {P1.5};
  \node[pinlbl,anchor=east] (nU1o) at (628,404) {P1.4};
  \node[pinlbl,anchor=east] (nU1p) at (628,424) {P1.3};
  \node[pinlbl,anchor=east] (nU1q) at (628,443) {P1.1};
  \node[pinlbl,anchor=east] (nU1r) at (628,483) {ANT};
  \node[pinlbl,rotate=90] (nU2a) at (299,587) {OUTN};
  \node[pinlbl,rotate=90] (nU2b) at (299,562) {VDD};
  \node[pinlbl,rotate=90] (nU2c) at (319,568) {OUTP};
  \node[pinlbl,rotate=90] (nU2d) at (319,597) {IN};
  \node[pinlbl,rotate=90] (nU2e) at (338,566) {NC};
  \node[pinlbl,rotate=90] (nU2f) at (338,592) {VREF};
  \node[pinlbl,rotate=90] (nU2g) at (358,562) {CE};
  \node[pinlbl,rotate=90] (nU2h) at (358,592) {GND};
  \node[pinlbl,rotate=90] (nU3a) at (563,634) {VO};
  \node[pinlbl,rotate=90] (nU3b) at (583,638) {VDD};
  \node[pinlbl,rotate=90] (nU3c) at (602,634) {P2.7};
  \node[pinlbl,rotate=90] (nU3d) at (622,634) {P2.5};
  \node[pinlbl,rotate=90] (nU3e) at (563,669) {OSC1};
  \node[pinlbl,rotate=90] (nU3f) at (583,672) {VSS};
  \node[pinlbl,rotate=90] (nU3g) at (602,671) {P2.1};
  \node[pinlbl,rotate=90] (nU3h) at (622,671) {P2.4};
  \node[lbl,anchor=west,text=black!80] (nU4a) at (724,126) {$\overline{\hbox{CH}}$};
  \node[lbl,anchor=west,text=black!80] (nU4b) at (724,145) {GND};
  \node[lbl,anchor=west,text=black!80] (nU4c) at (724,165) {BAT};
  \node[lbl,anchor=east,text=black!80] (nU4d) at (766,126) {PROG};
  \node[lbl,anchor=east,text=black!80] (nU4e) at (766,165) {VCC};
  \node[lbl,rotate=90,text=black!80] (nU5a) at (935,202) {OUT};
  \node[lbl,rotate=90,text=black!80] (nU5b) at (950,201) {GND};
  \node[lbl,rotate=90,text=black!80] (nU5c) at (964,205) {IN};
\end{tikzpicture}
\end{document}
